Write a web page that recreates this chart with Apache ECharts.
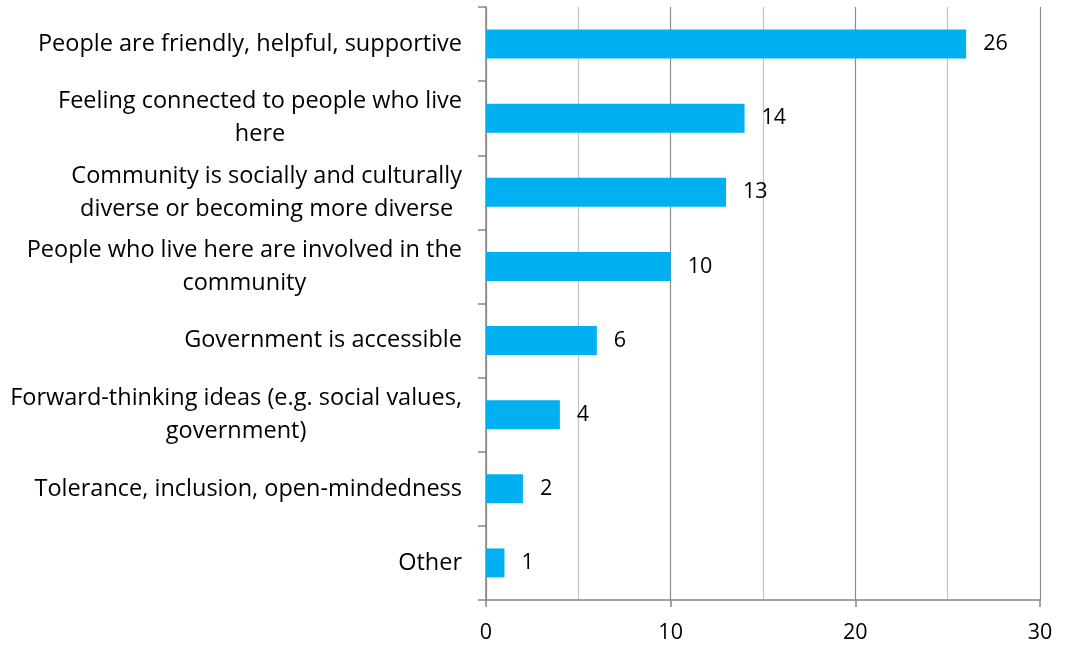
<!DOCTYPE html>
<html>
<head>
<meta charset="utf-8">
<script src="https://cdn.jsdelivr.net/npm/echarts@6/dist/echarts.min.js"></script>
<style>html,body{margin:0;padding:0;background:#fff}#c{width:1068px;height:648px}</style>
</head>
<body>
<div id="c"></div>
<script>
const categories = [
  "People are friendly, helpful, supportive",
  "Feeling connected to people who live\nhere",
  "Community is socially and culturally\ndiverse or becoming more diverse",
  "People who live here are involved in the\ncommunity",
  "Government is accessible",
  "Forward-thinking ideas (e.g. social values,\ngovernment)",
  "Tolerance, inclusion, open-mindedness",
  "Other"
];
const values = [26, 14, 13, 10, 6, 4, 2, 1];
const xTicks = {min: 0, max: 30, interval: 10};

const FONT = "'Open Sans', 'Noto Sans', sans-serif";
const chart = echarts.init(document.getElementById('c'), null, {renderer: 'canvas'});
chart.setOption({
  animation: false,
  grid: {left: 486, right: 28, top: 7, bottom: 48, containLabel: false},
  xAxis: {
    type: 'value', min: xTicks.min, max: xTicks.max, interval: xTicks.interval,
    axisLine: {show: true, lineStyle: {color: '#868686', width: 1.5}},
    axisTick: {show: true, length: 7, lineStyle: {color: '#868686', width: 1.5}},
    minorTick: {show: true, splitNumber: 2, length: 0},
    splitLine: {show: true, lineStyle: {color: '#8c8c8c', width: 1.2}},
    minorSplitLine: {show: true, lineStyle: {color: '#c4c4c4', width: 1.2}},
    axisLabel: {color: '#000', fontSize: 21.5, fontFamily: FONT, margin: 22}
  },
  yAxis: {
    type: 'category', inverse: true, data: categories,
    axisLine: {show: true, lineStyle: {color: '#868686', width: 1.5}},
    axisTick: {show: true, length: 8, lineStyle: {color: '#868686', width: 1.5}},
    axisLabel: {
      color: '#000', fontSize: 23.5, fontFamily: FONT, margin: 24, align: 'right',
      formatter: v => v.split('\n').map(s => '{c|' + s + '}').join('\n'),
      rich: {c: {align: 'center', fontSize: 23.5, fontFamily: FONT, color: '#000', lineHeight: 33}}
    },
    splitLine: {show: false}
  },
  series: [{
    type: 'bar', data: values, barWidth: 29,
    itemStyle: {color: '#00B0F0'},
    label: {show: true, position: 'right', distance: 17, color: '#000', fontSize: 21.5, fontFamily: FONT}
  }]
});
</script>
</body>
</html>
